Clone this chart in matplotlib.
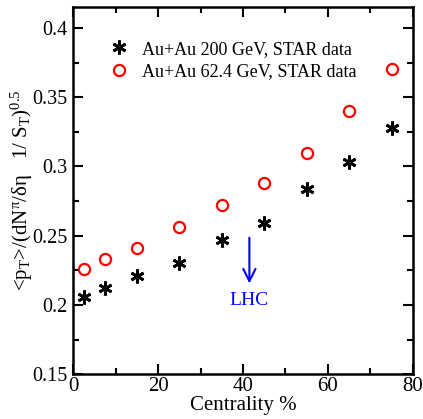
import matplotlib
matplotlib.use("Agg")
import matplotlib.pyplot as plt
from matplotlib.ticker import MultipleLocator

# data
centrality = [2.5, 7.5, 15, 25, 35, 45, 55, 65, 75]
star_200 = [0.206, 0.212, 0.221, 0.230, 0.247, 0.259, 0.284, 0.303, 0.328]
star_62 = [0.226, 0.233, 0.241, 0.256, 0.272, 0.288, 0.310, 0.340, 0.370]
x_ticks = [0, 20, 40, 60, 80]
y_ticks = [0.15, 0.2, 0.25, 0.3, 0.35, 0.4]
y_labels = ["0.15", "0.2", "0.25", "0.3", "0.35", "0.4"]

plt.rcParams['font.family'] = ['Liberation Serif', 'DejaVu Serif']
plt.rcParams['mathtext.fontset'] = 'custom'
plt.rcParams['mathtext.rm'] = 'Liberation Serif'
plt.rcParams['mathtext.it'] = 'Liberation Serif'

fig = plt.figure(figsize=(4.23, 4.19), dpi=100)
ax = fig.add_axes([0.173, 0.107, 0.803, 0.876])

ax.plot(centrality, star_200, linestyle='none', marker=(6, 2, 0), markersize=10,
        markeredgewidth=2.0, color='black', label='Au+Au 200 GeV, STAR data')
ax.plot(centrality, star_62, linestyle='none', marker='o', markersize=8,
        markerfacecolor='none', markeredgecolor='red', markeredgewidth=1.6,
        label='Au+Au 62.4 GeV, STAR data')

# LHC arrow
ax.annotate('', xy=(41.5, 0.2135), xytext=(41.5, 0.2505),
            arrowprops=dict(arrowstyle='->', color='blue', lw=1.5,
                            mutation_scale=22))
ax.text(41.5, 0.2035, 'LHC', color='blue', fontsize=14, ha='center', va='center')

ax.set_xlim(0, 80)
ax.set_ylim(0.15, 0.415)
ax.set_xticks(x_ticks)
ax.set_yticks(y_ticks)
ax.set_yticklabels(y_labels)
ax.xaxis.set_minor_locator(MultipleLocator(10))
ax.yaxis.set_minor_locator(MultipleLocator(0.025))
ax.tick_params(which='both', direction='in', top=True, right=True, width=1.5)
ax.tick_params(axis='x', pad=2, labelsize=15)
ax.tick_params(axis='y', pad=4, labelsize=14.5)
ax.tick_params(which='major', length=7)
ax.tick_params(which='minor', length=4)
for s in ax.spines.values():
    s.set_linewidth(1.8)

ax.set_xlabel('Centrality %', fontsize=15, labelpad=0)
ax.set_ylabel(r'<p$_\mathrm{T}$>/(dN$^{\pi}$/$\delta\eta$   1/ S$_\mathrm{T}$)$^{0.5}$',
              fontsize=15)
ax.yaxis.set_label_coords(-0.112, 0.5)

ax.legend(loc='upper left', bbox_to_anchor=(0.055, 0.943), frameon=False,
          fontsize=13, handlelength=1.6, handletextpad=0.5,
          labelspacing=0.3, borderpad=0.2)

fig.savefig('out.png', dpi=100)
